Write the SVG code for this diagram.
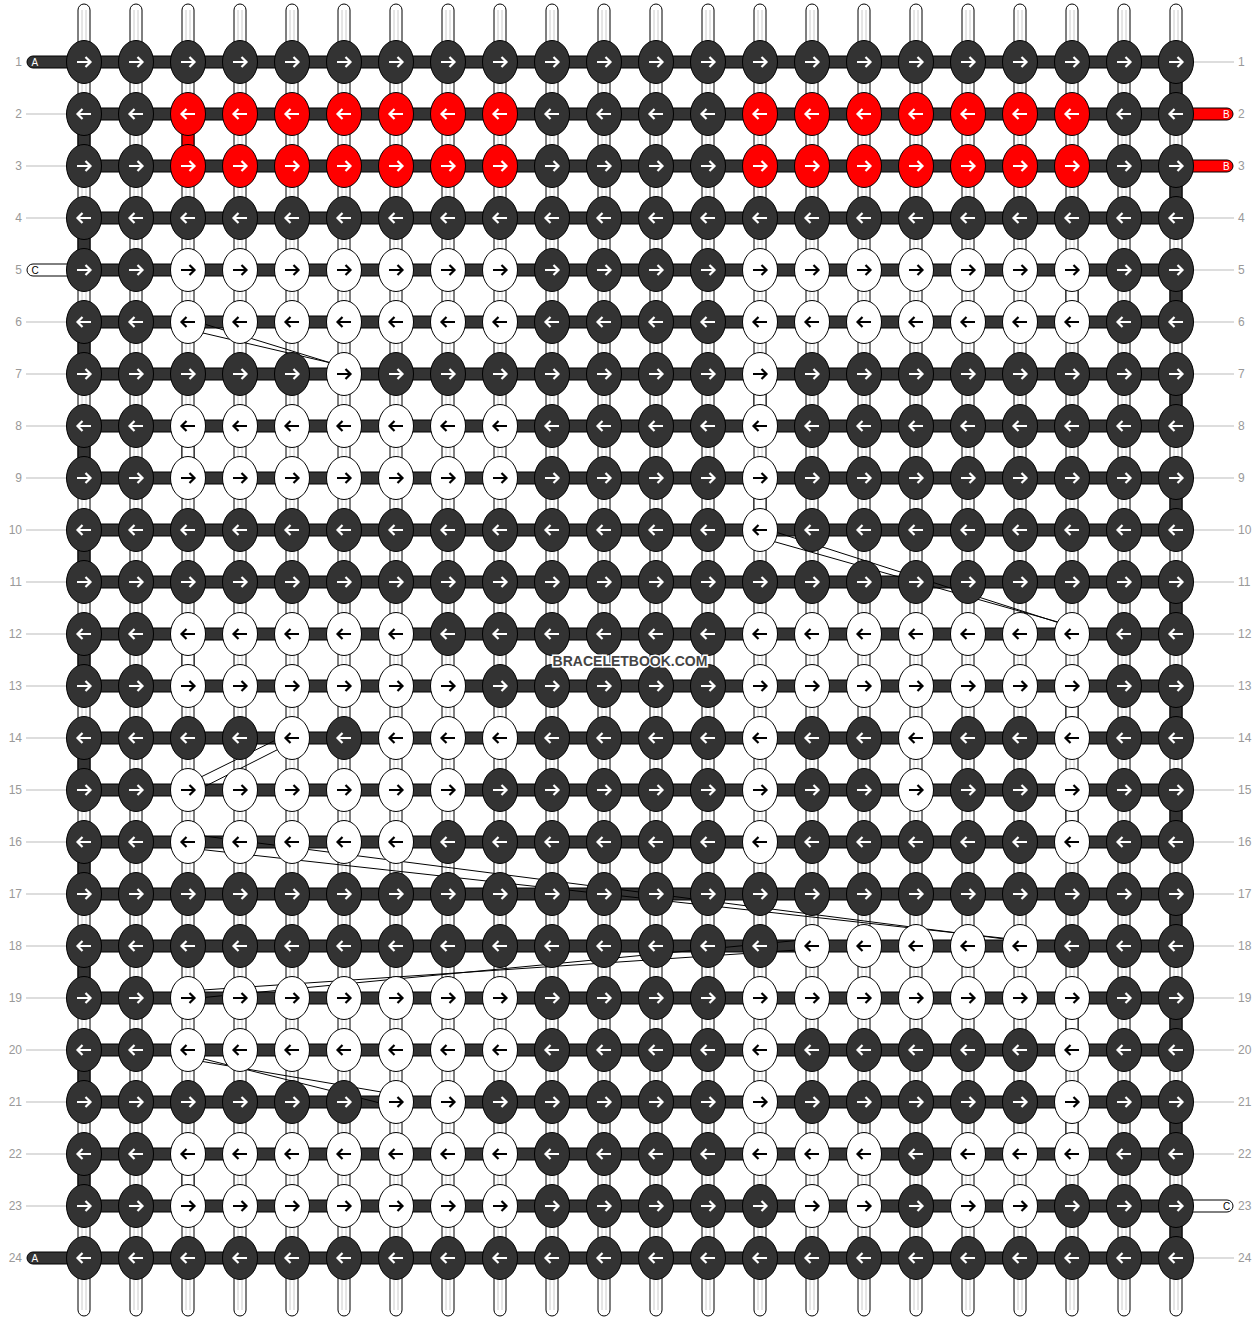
<svg xmlns="http://www.w3.org/2000/svg" xmlns:xlink="http://www.w3.org/1999/xlink" width="1260" height="1320" viewBox="0 0 1260 1320">
<style>
.kd{fill:#333;stroke:#000;stroke-width:1}
.kw{fill:#fff;stroke:#000;stroke-width:1}
.kr{fill:#f00;stroke:#000;stroke-width:1}
.aw{stroke:#fff}
.ab{stroke:#000}
.hb{fill:#333;stroke:#000;stroke-width:1}
.sd{fill:#333;stroke:#000;stroke-width:1}
.sr{fill:#f00;stroke:#000;stroke-width:1}
.sw{fill:#fff;stroke:#000;stroke-width:1}
.x{stroke:#000;stroke-width:1;fill:none}
.num{font-family:"Liberation Sans",Arial,sans-serif;font-size:12px;fill:#999}
.gl{stroke:#bbb;stroke-width:1}
.lab{font-family:"Liberation Sans",Arial,sans-serif;font-size:10px}
.wm{font-family:"Liberation Sans",Arial,sans-serif;font-size:14px;font-weight:bold;fill:#444;stroke:#fff;stroke-width:3;paint-order:stroke;text-anchor:middle}
</style>
<defs>
<path id="aR" d="M-7,0H6M1.5,-5L6.5,0L1.5,5" fill="none" stroke-width="2.2" stroke-linejoin="miter"/>
<path id="aL" d="M7,0H-6M-1.5,-5L-6.5,0L-1.5,5" fill="none" stroke-width="2.2" stroke-linejoin="miter"/>
<g id="dR"><ellipse rx="17.5" ry="21.5" class="kd"/><use href="#aR" class="aw"/></g>
<g id="dL"><ellipse rx="17.5" ry="21.5" class="kd"/><use href="#aL" class="aw"/></g>
<g id="wR"><ellipse rx="17.5" ry="21.5" class="kw"/><use href="#aR" class="ab"/></g>
<g id="wL"><ellipse rx="17.5" ry="21.5" class="kw"/><use href="#aL" class="ab"/></g>
<g id="rR"><ellipse rx="17.5" ry="21.5" class="kr"/><use href="#aR" class="aw"/></g>
<g id="rL"><ellipse rx="17.5" ry="21.5" class="kr"/><use href="#aL" class="aw"/></g>
<g id="pin"><rect x="-6" y="4" width="12" height="1312" rx="6" fill="#fff" stroke="#000"/><path d="M-2,10V1310M2,10V1310" stroke="#ccc"/></g>
</defs>
<rect width="1260" height="1320" fill="#fff"/>

<g id="labels">
<g class="gl">
<line x1="26" y1="114" x2="67" y2="114"/><line x1="26" y1="166" x2="67" y2="166"/><line x1="26" y1="218" x2="67" y2="218"/>
<line x1="26" y1="322" x2="67" y2="322"/><line x1="26" y1="374" x2="67" y2="374"/><line x1="26" y1="426" x2="67" y2="426"/><line x1="26" y1="478" x2="67" y2="478"/><line x1="26" y1="530" x2="67" y2="530"/><line x1="26" y1="582" x2="67" y2="582"/><line x1="26" y1="634" x2="67" y2="634"/><line x1="26" y1="686" x2="67" y2="686"/><line x1="26" y1="738" x2="67" y2="738"/><line x1="26" y1="790" x2="67" y2="790"/><line x1="26" y1="842" x2="67" y2="842"/><line x1="26" y1="894" x2="67" y2="894"/><line x1="26" y1="946" x2="67" y2="946"/><line x1="26" y1="998" x2="67" y2="998"/><line x1="26" y1="1050" x2="67" y2="1050"/><line x1="26" y1="1102" x2="67" y2="1102"/><line x1="26" y1="1154" x2="67" y2="1154"/><line x1="26" y1="1206" x2="67" y2="1206"/>
<line x1="1193" y1="62" x2="1234" y2="62"/><line x1="1193" y1="218" x2="1234" y2="218"/><line x1="1193" y1="270" x2="1234" y2="270"/><line x1="1193" y1="322" x2="1234" y2="322"/><line x1="1193" y1="374" x2="1234" y2="374"/><line x1="1193" y1="426" x2="1234" y2="426"/><line x1="1193" y1="478" x2="1234" y2="478"/><line x1="1193" y1="530" x2="1234" y2="530"/><line x1="1193" y1="582" x2="1234" y2="582"/><line x1="1193" y1="634" x2="1234" y2="634"/><line x1="1193" y1="686" x2="1234" y2="686"/><line x1="1193" y1="738" x2="1234" y2="738"/><line x1="1193" y1="790" x2="1234" y2="790"/><line x1="1193" y1="842" x2="1234" y2="842"/><line x1="1193" y1="894" x2="1234" y2="894"/><line x1="1193" y1="946" x2="1234" y2="946"/><line x1="1193" y1="998" x2="1234" y2="998"/><line x1="1193" y1="1050" x2="1234" y2="1050"/><line x1="1193" y1="1102" x2="1234" y2="1102"/><line x1="1193" y1="1154" x2="1234" y2="1154"/><line x1="1193" y1="1258" x2="1234" y2="1258"/>
</g>
<g class="num" text-anchor="end">
<text x="22" y="66">1</text><text x="22" y="118">2</text><text x="22" y="170">3</text><text x="22" y="222">4</text><text x="22" y="274">5</text><text x="22" y="326">6</text><text x="22" y="378">7</text><text x="22" y="430">8</text><text x="22" y="482">9</text><text x="22" y="534">10</text><text x="22" y="586">11</text><text x="22" y="638">12</text><text x="22" y="690">13</text><text x="22" y="742">14</text><text x="22" y="794">15</text><text x="22" y="846">16</text><text x="22" y="898">17</text><text x="22" y="950">18</text><text x="22" y="1002">19</text><text x="22" y="1054">20</text><text x="22" y="1106">21</text><text x="22" y="1158">22</text><text x="22" y="1210">23</text><text x="22" y="1262">24</text>
</g>
<g class="num">
<text x="1238" y="66">1</text><text x="1238" y="118">2</text><text x="1238" y="170">3</text><text x="1238" y="222">4</text><text x="1238" y="274">5</text><text x="1238" y="326">6</text><text x="1238" y="378">7</text><text x="1238" y="430">8</text><text x="1238" y="482">9</text><text x="1238" y="534">10</text><text x="1238" y="586">11</text><text x="1238" y="638">12</text><text x="1238" y="690">13</text><text x="1238" y="742">14</text><text x="1238" y="794">15</text><text x="1238" y="846">16</text><text x="1238" y="898">17</text><text x="1238" y="950">18</text><text x="1238" y="1002">19</text><text x="1238" y="1054">20</text><text x="1238" y="1106">21</text><text x="1238" y="1158">22</text><text x="1238" y="1210">23</text><text x="1238" y="1262">24</text>
</g>
</g>

<g id="connectors">
<g id="strands">
<use href="#pin" x="84"/><use href="#pin" x="136"/><use href="#pin" x="188"/><use href="#pin" x="240"/><use href="#pin" x="292"/><use href="#pin" x="344"/><use href="#pin" x="396"/><use href="#pin" x="448"/><use href="#pin" x="500"/><use href="#pin" x="552"/><use href="#pin" x="604"/><use href="#pin" x="656"/><use href="#pin" x="708"/><use href="#pin" x="760"/><use href="#pin" x="812"/><use href="#pin" x="864"/><use href="#pin" x="916"/><use href="#pin" x="968"/><use href="#pin" x="1020"/><use href="#pin" x="1072"/><use href="#pin" x="1124"/><use href="#pin" x="1176"/>
</g>
<g id="turns">
<rect class="sd" x="78" y="114" width="12" height="52"/><rect class="sd" x="78" y="218" width="12" height="52"/><rect class="sd" x="78" y="322" width="12" height="52"/><rect class="sd" x="78" y="426" width="12" height="52"/><rect class="sd" x="78" y="530" width="12" height="52"/><rect class="sd" x="78" y="634" width="12" height="52"/><rect class="sd" x="78" y="738" width="12" height="52"/><rect class="sd" x="78" y="842" width="12" height="52"/><rect class="sd" x="78" y="946" width="12" height="52"/><rect class="sd" x="78" y="1050" width="12" height="52"/><rect class="sd" x="78" y="1154" width="12" height="52"/>
<rect class="sd" x="1170" y="62" width="12" height="52"/><rect class="sd" x="1170" y="166" width="12" height="52"/><rect class="sd" x="1170" y="270" width="12" height="52"/><rect class="sd" x="1170" y="374" width="12" height="52"/><rect class="sd" x="1170" y="478" width="12" height="52"/><rect class="sd" x="1170" y="582" width="12" height="52"/><rect class="sd" x="1170" y="686" width="12" height="52"/><rect class="sd" x="1170" y="790" width="12" height="52"/><rect class="sd" x="1170" y="894" width="12" height="52"/><rect class="sd" x="1170" y="998" width="12" height="52"/><rect class="sd" x="1170" y="1102" width="12" height="52"/><rect class="sd" x="1170" y="1206" width="12" height="52"/>
<rect class="sr" x="182" y="114" width="12" height="52"/>
<rect class="sw" x="1066" y="270" width="12" height="52"/><rect class="sw" x="754" y="374" width="12" height="52"/><rect class="sw" x="182" y="426" width="12" height="52"/><rect class="sw" x="754" y="478" width="12" height="52"/><rect class="sw" x="182" y="634" width="12" height="52"/><rect class="sw" x="1066" y="686" width="12" height="52"/><rect class="sw" x="1066" y="790" width="12" height="52"/><rect class="sw" x="1066" y="998" width="12" height="52"/><rect class="sw" x="1066" y="1102" width="12" height="52"/><rect class="sw" x="182" y="1154" width="12" height="52"/>
</g>
<g id="rowbars">
<rect class="hb" x="84" y="56" width="1092" height="12"/><rect class="hb" x="84" y="108" width="1092" height="12"/><rect class="hb" x="84" y="160" width="1092" height="12"/><rect class="hb" x="84" y="212" width="1092" height="12"/><rect class="hb" x="84" y="264" width="1092" height="12"/><rect class="hb" x="84" y="316" width="1092" height="12"/><rect class="hb" x="84" y="368" width="1092" height="12"/><rect class="hb" x="84" y="420" width="1092" height="12"/><rect class="hb" x="84" y="472" width="1092" height="12"/><rect class="hb" x="84" y="524" width="1092" height="12"/><rect class="hb" x="84" y="576" width="1092" height="12"/><rect class="hb" x="84" y="628" width="1092" height="12"/><rect class="hb" x="84" y="680" width="1092" height="12"/><rect class="hb" x="84" y="732" width="1092" height="12"/><rect class="hb" x="84" y="784" width="1092" height="12"/><rect class="hb" x="84" y="836" width="1092" height="12"/><rect class="hb" x="84" y="888" width="1092" height="12"/><rect class="hb" x="84" y="940" width="1092" height="12"/><rect class="hb" x="84" y="992" width="1092" height="12"/><rect class="hb" x="84" y="1044" width="1092" height="12"/><rect class="hb" x="84" y="1096" width="1092" height="12"/><rect class="hb" x="84" y="1148" width="1092" height="12"/><rect class="hb" x="84" y="1200" width="1092" height="12"/><rect class="hb" x="84" y="1252" width="1092" height="12"/>
</g>
<g id="threads">
<rect x="27" y="56" width="60" height="12" rx="6" fill="#333" stroke="#000"/>
<rect x="27" y="1252" width="60" height="12" rx="6" fill="#333" stroke="#000"/>
<rect x="27" y="264" width="60" height="12" rx="6" fill="#fff" stroke="#000"/>
<rect x="1173" y="108" width="60" height="12" rx="6" fill="#f00" stroke="#000"/>
<rect x="1173" y="160" width="60" height="12" rx="6" fill="#f00" stroke="#000"/>
<rect x="1173" y="1200" width="60" height="12" rx="6" fill="#fff" stroke="#000"/>
</g>
<g id="jumps" class="x">
<line x1="188" y1="329.5" x2="344" y2="366"/><line x1="188" y1="319" x2="344" y2="367"/>
<line x1="760" y1="537.6" x2="1072" y2="626"/><line x1="760" y1="527" x2="1072" y2="627"/>
<line x1="292" y1="732" x2="188" y2="783.4"/><line x1="292" y1="742.3" x2="188" y2="795"/>
<line x1="188" y1="848" x2="1020" y2="940"/><line x1="188" y1="834" x2="1020" y2="941"/>
<line x1="188" y1="991" x2="812" y2="949"/><line x1="188" y1="999" x2="812" y2="939"/>
<line x1="188" y1="1055" x2="396" y2="1107"/><line x1="188" y1="1059" x2="396" y2="1094.5"/>
</g>
</g>

<g id="knots">
<g id="row1" transform="translate(0,62)">
<g id="n1-1"><use href="#dR" x="84"/></g><g id="n1-2"><use href="#dR" x="136"/></g><g id="n1-3"><use href="#dR" x="188"/></g><g id="n1-4"><use href="#dR" x="240"/></g><g id="n1-5"><use href="#dR" x="292"/></g><g id="n1-6"><use href="#dR" x="344"/></g><g id="n1-7"><use href="#dR" x="396"/></g><g id="n1-8"><use href="#dR" x="448"/></g><g id="n1-9"><use href="#dR" x="500"/></g><g id="n1-10"><use href="#dR" x="552"/></g><g id="n1-11"><use href="#dR" x="604"/></g><g id="n1-12"><use href="#dR" x="656"/></g><g id="n1-13"><use href="#dR" x="708"/></g><g id="n1-14"><use href="#dR" x="760"/></g><g id="n1-15"><use href="#dR" x="812"/></g><g id="n1-16"><use href="#dR" x="864"/></g><g id="n1-17"><use href="#dR" x="916"/></g><g id="n1-18"><use href="#dR" x="968"/></g><g id="n1-19"><use href="#dR" x="1020"/></g><g id="n1-20"><use href="#dR" x="1072"/></g><g id="n1-21"><use href="#dR" x="1124"/></g><g id="n1-22"><use href="#dR" x="1176"/></g>
</g>
<g id="row2" transform="translate(0,114)">
<g id="n2-1"><use href="#dL" x="84"/></g><g id="n2-2"><use href="#dL" x="136"/></g><g id="n2-3"><use href="#rL" x="188"/></g><g id="n2-4"><use href="#rL" x="240"/></g><g id="n2-5"><use href="#rL" x="292"/></g><g id="n2-6"><use href="#rL" x="344"/></g><g id="n2-7"><use href="#rL" x="396"/></g><g id="n2-8"><use href="#rL" x="448"/></g><g id="n2-9"><use href="#rL" x="500"/></g><g id="n2-10"><use href="#dL" x="552"/></g><g id="n2-11"><use href="#dL" x="604"/></g><g id="n2-12"><use href="#dL" x="656"/></g><g id="n2-13"><use href="#dL" x="708"/></g><g id="n2-14"><use href="#rL" x="760"/></g><g id="n2-15"><use href="#rL" x="812"/></g><g id="n2-16"><use href="#rL" x="864"/></g><g id="n2-17"><use href="#rL" x="916"/></g><g id="n2-18"><use href="#rL" x="968"/></g><g id="n2-19"><use href="#rL" x="1020"/></g><g id="n2-20"><use href="#rL" x="1072"/></g><g id="n2-21"><use href="#dL" x="1124"/></g><g id="n2-22"><use href="#dL" x="1176"/></g>
</g>
<g id="row3" transform="translate(0,166)">
<g id="n3-1"><use href="#dR" x="84"/></g><g id="n3-2"><use href="#dR" x="136"/></g><g id="n3-3"><use href="#rR" x="188"/></g><g id="n3-4"><use href="#rR" x="240"/></g><g id="n3-5"><use href="#rR" x="292"/></g><g id="n3-6"><use href="#rR" x="344"/></g><g id="n3-7"><use href="#rR" x="396"/></g><g id="n3-8"><use href="#rR" x="448"/></g><g id="n3-9"><use href="#rR" x="500"/></g><g id="n3-10"><use href="#dR" x="552"/></g><g id="n3-11"><use href="#dR" x="604"/></g><g id="n3-12"><use href="#dR" x="656"/></g><g id="n3-13"><use href="#dR" x="708"/></g><g id="n3-14"><use href="#rR" x="760"/></g><g id="n3-15"><use href="#rR" x="812"/></g><g id="n3-16"><use href="#rR" x="864"/></g><g id="n3-17"><use href="#rR" x="916"/></g><g id="n3-18"><use href="#rR" x="968"/></g><g id="n3-19"><use href="#rR" x="1020"/></g><g id="n3-20"><use href="#rR" x="1072"/></g><g id="n3-21"><use href="#dR" x="1124"/></g><g id="n3-22"><use href="#dR" x="1176"/></g>
</g>
<g id="row4" transform="translate(0,218)">
<g id="n4-1"><use href="#dL" x="84"/></g><g id="n4-2"><use href="#dL" x="136"/></g><g id="n4-3"><use href="#dL" x="188"/></g><g id="n4-4"><use href="#dL" x="240"/></g><g id="n4-5"><use href="#dL" x="292"/></g><g id="n4-6"><use href="#dL" x="344"/></g><g id="n4-7"><use href="#dL" x="396"/></g><g id="n4-8"><use href="#dL" x="448"/></g><g id="n4-9"><use href="#dL" x="500"/></g><g id="n4-10"><use href="#dL" x="552"/></g><g id="n4-11"><use href="#dL" x="604"/></g><g id="n4-12"><use href="#dL" x="656"/></g><g id="n4-13"><use href="#dL" x="708"/></g><g id="n4-14"><use href="#dL" x="760"/></g><g id="n4-15"><use href="#dL" x="812"/></g><g id="n4-16"><use href="#dL" x="864"/></g><g id="n4-17"><use href="#dL" x="916"/></g><g id="n4-18"><use href="#dL" x="968"/></g><g id="n4-19"><use href="#dL" x="1020"/></g><g id="n4-20"><use href="#dL" x="1072"/></g><g id="n4-21"><use href="#dL" x="1124"/></g><g id="n4-22"><use href="#dL" x="1176"/></g>
</g>
<g id="row5" transform="translate(0,270)">
<g id="n5-1"><use href="#dR" x="84"/></g><g id="n5-2"><use href="#dR" x="136"/></g><g id="n5-3"><use href="#wR" x="188"/></g><g id="n5-4"><use href="#wR" x="240"/></g><g id="n5-5"><use href="#wR" x="292"/></g><g id="n5-6"><use href="#wR" x="344"/></g><g id="n5-7"><use href="#wR" x="396"/></g><g id="n5-8"><use href="#wR" x="448"/></g><g id="n5-9"><use href="#wR" x="500"/></g><g id="n5-10"><use href="#dR" x="552"/></g><g id="n5-11"><use href="#dR" x="604"/></g><g id="n5-12"><use href="#dR" x="656"/></g><g id="n5-13"><use href="#dR" x="708"/></g><g id="n5-14"><use href="#wR" x="760"/></g><g id="n5-15"><use href="#wR" x="812"/></g><g id="n5-16"><use href="#wR" x="864"/></g><g id="n5-17"><use href="#wR" x="916"/></g><g id="n5-18"><use href="#wR" x="968"/></g><g id="n5-19"><use href="#wR" x="1020"/></g><g id="n5-20"><use href="#wR" x="1072"/></g><g id="n5-21"><use href="#dR" x="1124"/></g><g id="n5-22"><use href="#dR" x="1176"/></g>
</g>
<g id="row6" transform="translate(0,322)">
<g id="n6-1"><use href="#dL" x="84"/></g><g id="n6-2"><use href="#dL" x="136"/></g><g id="n6-3"><use href="#wL" x="188"/></g><g id="n6-4"><use href="#wL" x="240"/></g><g id="n6-5"><use href="#wL" x="292"/></g><g id="n6-6"><use href="#wL" x="344"/></g><g id="n6-7"><use href="#wL" x="396"/></g><g id="n6-8"><use href="#wL" x="448"/></g><g id="n6-9"><use href="#wL" x="500"/></g><g id="n6-10"><use href="#dL" x="552"/></g><g id="n6-11"><use href="#dL" x="604"/></g><g id="n6-12"><use href="#dL" x="656"/></g><g id="n6-13"><use href="#dL" x="708"/></g><g id="n6-14"><use href="#wL" x="760"/></g><g id="n6-15"><use href="#wL" x="812"/></g><g id="n6-16"><use href="#wL" x="864"/></g><g id="n6-17"><use href="#wL" x="916"/></g><g id="n6-18"><use href="#wL" x="968"/></g><g id="n6-19"><use href="#wL" x="1020"/></g><g id="n6-20"><use href="#wL" x="1072"/></g><g id="n6-21"><use href="#dL" x="1124"/></g><g id="n6-22"><use href="#dL" x="1176"/></g>
</g>
<g id="row7" transform="translate(0,374)">
<g id="n7-1"><use href="#dR" x="84"/></g><g id="n7-2"><use href="#dR" x="136"/></g><g id="n7-3"><use href="#dR" x="188"/></g><g id="n7-4"><use href="#dR" x="240"/></g><g id="n7-5"><use href="#dR" x="292"/></g><g id="n7-6"><use href="#wR" x="344"/></g><g id="n7-7"><use href="#dR" x="396"/></g><g id="n7-8"><use href="#dR" x="448"/></g><g id="n7-9"><use href="#dR" x="500"/></g><g id="n7-10"><use href="#dR" x="552"/></g><g id="n7-11"><use href="#dR" x="604"/></g><g id="n7-12"><use href="#dR" x="656"/></g><g id="n7-13"><use href="#dR" x="708"/></g><g id="n7-14"><use href="#wR" x="760"/></g><g id="n7-15"><use href="#dR" x="812"/></g><g id="n7-16"><use href="#dR" x="864"/></g><g id="n7-17"><use href="#dR" x="916"/></g><g id="n7-18"><use href="#dR" x="968"/></g><g id="n7-19"><use href="#dR" x="1020"/></g><g id="n7-20"><use href="#dR" x="1072"/></g><g id="n7-21"><use href="#dR" x="1124"/></g><g id="n7-22"><use href="#dR" x="1176"/></g>
</g>
<g id="row8" transform="translate(0,426)">
<g id="n8-1"><use href="#dL" x="84"/></g><g id="n8-2"><use href="#dL" x="136"/></g><g id="n8-3"><use href="#wL" x="188"/></g><g id="n8-4"><use href="#wL" x="240"/></g><g id="n8-5"><use href="#wL" x="292"/></g><g id="n8-6"><use href="#wL" x="344"/></g><g id="n8-7"><use href="#wL" x="396"/></g><g id="n8-8"><use href="#wL" x="448"/></g><g id="n8-9"><use href="#wL" x="500"/></g><g id="n8-10"><use href="#dL" x="552"/></g><g id="n8-11"><use href="#dL" x="604"/></g><g id="n8-12"><use href="#dL" x="656"/></g><g id="n8-13"><use href="#dL" x="708"/></g><g id="n8-14"><use href="#wL" x="760"/></g><g id="n8-15"><use href="#dL" x="812"/></g><g id="n8-16"><use href="#dL" x="864"/></g><g id="n8-17"><use href="#dL" x="916"/></g><g id="n8-18"><use href="#dL" x="968"/></g><g id="n8-19"><use href="#dL" x="1020"/></g><g id="n8-20"><use href="#dL" x="1072"/></g><g id="n8-21"><use href="#dL" x="1124"/></g><g id="n8-22"><use href="#dL" x="1176"/></g>
</g>
<g id="row9" transform="translate(0,478)">
<g id="n9-1"><use href="#dR" x="84"/></g><g id="n9-2"><use href="#dR" x="136"/></g><g id="n9-3"><use href="#wR" x="188"/></g><g id="n9-4"><use href="#wR" x="240"/></g><g id="n9-5"><use href="#wR" x="292"/></g><g id="n9-6"><use href="#wR" x="344"/></g><g id="n9-7"><use href="#wR" x="396"/></g><g id="n9-8"><use href="#wR" x="448"/></g><g id="n9-9"><use href="#wR" x="500"/></g><g id="n9-10"><use href="#dR" x="552"/></g><g id="n9-11"><use href="#dR" x="604"/></g><g id="n9-12"><use href="#dR" x="656"/></g><g id="n9-13"><use href="#dR" x="708"/></g><g id="n9-14"><use href="#wR" x="760"/></g><g id="n9-15"><use href="#dR" x="812"/></g><g id="n9-16"><use href="#dR" x="864"/></g><g id="n9-17"><use href="#dR" x="916"/></g><g id="n9-18"><use href="#dR" x="968"/></g><g id="n9-19"><use href="#dR" x="1020"/></g><g id="n9-20"><use href="#dR" x="1072"/></g><g id="n9-21"><use href="#dR" x="1124"/></g><g id="n9-22"><use href="#dR" x="1176"/></g>
</g>
<g id="row10" transform="translate(0,530)">
<g id="n10-1"><use href="#dL" x="84"/></g><g id="n10-2"><use href="#dL" x="136"/></g><g id="n10-3"><use href="#dL" x="188"/></g><g id="n10-4"><use href="#dL" x="240"/></g><g id="n10-5"><use href="#dL" x="292"/></g><g id="n10-6"><use href="#dL" x="344"/></g><g id="n10-7"><use href="#dL" x="396"/></g><g id="n10-8"><use href="#dL" x="448"/></g><g id="n10-9"><use href="#dL" x="500"/></g><g id="n10-10"><use href="#dL" x="552"/></g><g id="n10-11"><use href="#dL" x="604"/></g><g id="n10-12"><use href="#dL" x="656"/></g><g id="n10-13"><use href="#dL" x="708"/></g><g id="n10-14"><use href="#wL" x="760"/></g><g id="n10-15"><use href="#dL" x="812"/></g><g id="n10-16"><use href="#dL" x="864"/></g><g id="n10-17"><use href="#dL" x="916"/></g><g id="n10-18"><use href="#dL" x="968"/></g><g id="n10-19"><use href="#dL" x="1020"/></g><g id="n10-20"><use href="#dL" x="1072"/></g><g id="n10-21"><use href="#dL" x="1124"/></g><g id="n10-22"><use href="#dL" x="1176"/></g>
</g>
<g id="row11" transform="translate(0,582)">
<g id="n11-1"><use href="#dR" x="84"/></g><g id="n11-2"><use href="#dR" x="136"/></g><g id="n11-3"><use href="#dR" x="188"/></g><g id="n11-4"><use href="#dR" x="240"/></g><g id="n11-5"><use href="#dR" x="292"/></g><g id="n11-6"><use href="#dR" x="344"/></g><g id="n11-7"><use href="#dR" x="396"/></g><g id="n11-8"><use href="#dR" x="448"/></g><g id="n11-9"><use href="#dR" x="500"/></g><g id="n11-10"><use href="#dR" x="552"/></g><g id="n11-11"><use href="#dR" x="604"/></g><g id="n11-12"><use href="#dR" x="656"/></g><g id="n11-13"><use href="#dR" x="708"/></g><g id="n11-14"><use href="#dR" x="760"/></g><g id="n11-15"><use href="#dR" x="812"/></g><g id="n11-16"><use href="#dR" x="864"/></g><g id="n11-17"><use href="#dR" x="916"/></g><g id="n11-18"><use href="#dR" x="968"/></g><g id="n11-19"><use href="#dR" x="1020"/></g><g id="n11-20"><use href="#dR" x="1072"/></g><g id="n11-21"><use href="#dR" x="1124"/></g><g id="n11-22"><use href="#dR" x="1176"/></g>
</g>
<g id="row12" transform="translate(0,634)">
<g id="n12-1"><use href="#dL" x="84"/></g><g id="n12-2"><use href="#dL" x="136"/></g><g id="n12-3"><use href="#wL" x="188"/></g><g id="n12-4"><use href="#wL" x="240"/></g><g id="n12-5"><use href="#wL" x="292"/></g><g id="n12-6"><use href="#wL" x="344"/></g><g id="n12-7"><use href="#wL" x="396"/></g><g id="n12-8"><use href="#dL" x="448"/></g><g id="n12-9"><use href="#dL" x="500"/></g><g id="n12-10"><use href="#dL" x="552"/></g><g id="n12-11"><use href="#dL" x="604"/></g><g id="n12-12"><use href="#dL" x="656"/></g><g id="n12-13"><use href="#dL" x="708"/></g><g id="n12-14"><use href="#wL" x="760"/></g><g id="n12-15"><use href="#wL" x="812"/></g><g id="n12-16"><use href="#wL" x="864"/></g><g id="n12-17"><use href="#wL" x="916"/></g><g id="n12-18"><use href="#wL" x="968"/></g><g id="n12-19"><use href="#wL" x="1020"/></g><g id="n12-20"><use href="#wL" x="1072"/></g><g id="n12-21"><use href="#dL" x="1124"/></g><g id="n12-22"><use href="#dL" x="1176"/></g>
</g>
<g id="row13" transform="translate(0,686)">
<g id="n13-1"><use href="#dR" x="84"/></g><g id="n13-2"><use href="#dR" x="136"/></g><g id="n13-3"><use href="#wR" x="188"/></g><g id="n13-4"><use href="#wR" x="240"/></g><g id="n13-5"><use href="#wR" x="292"/></g><g id="n13-6"><use href="#wR" x="344"/></g><g id="n13-7"><use href="#wR" x="396"/></g><g id="n13-8"><use href="#wR" x="448"/></g><g id="n13-9"><use href="#dR" x="500"/></g><g id="n13-10"><use href="#dR" x="552"/></g><g id="n13-11"><use href="#dR" x="604"/></g><g id="n13-12"><use href="#dR" x="656"/></g><g id="n13-13"><use href="#dR" x="708"/></g><g id="n13-14"><use href="#wR" x="760"/></g><g id="n13-15"><use href="#wR" x="812"/></g><g id="n13-16"><use href="#wR" x="864"/></g><g id="n13-17"><use href="#wR" x="916"/></g><g id="n13-18"><use href="#wR" x="968"/></g><g id="n13-19"><use href="#wR" x="1020"/></g><g id="n13-20"><use href="#wR" x="1072"/></g><g id="n13-21"><use href="#dR" x="1124"/></g><g id="n13-22"><use href="#dR" x="1176"/></g>
</g>
<g id="row14" transform="translate(0,738)">
<g id="n14-1"><use href="#dL" x="84"/></g><g id="n14-2"><use href="#dL" x="136"/></g><g id="n14-3"><use href="#dL" x="188"/></g><g id="n14-4"><use href="#dL" x="240"/></g><g id="n14-5"><use href="#wL" x="292"/></g><g id="n14-6"><use href="#dL" x="344"/></g><g id="n14-7"><use href="#wL" x="396"/></g><g id="n14-8"><use href="#wL" x="448"/></g><g id="n14-9"><use href="#wL" x="500"/></g><g id="n14-10"><use href="#dL" x="552"/></g><g id="n14-11"><use href="#dL" x="604"/></g><g id="n14-12"><use href="#dL" x="656"/></g><g id="n14-13"><use href="#dL" x="708"/></g><g id="n14-14"><use href="#wL" x="760"/></g><g id="n14-15"><use href="#dL" x="812"/></g><g id="n14-16"><use href="#dL" x="864"/></g><g id="n14-17"><use href="#wL" x="916"/></g><g id="n14-18"><use href="#dL" x="968"/></g><g id="n14-19"><use href="#dL" x="1020"/></g><g id="n14-20"><use href="#wL" x="1072"/></g><g id="n14-21"><use href="#dL" x="1124"/></g><g id="n14-22"><use href="#dL" x="1176"/></g>
</g>
<g id="row15" transform="translate(0,790)">
<g id="n15-1"><use href="#dR" x="84"/></g><g id="n15-2"><use href="#dR" x="136"/></g><g id="n15-3"><use href="#wR" x="188"/></g><g id="n15-4"><use href="#wR" x="240"/></g><g id="n15-5"><use href="#wR" x="292"/></g><g id="n15-6"><use href="#wR" x="344"/></g><g id="n15-7"><use href="#wR" x="396"/></g><g id="n15-8"><use href="#wR" x="448"/></g><g id="n15-9"><use href="#dR" x="500"/></g><g id="n15-10"><use href="#dR" x="552"/></g><g id="n15-11"><use href="#dR" x="604"/></g><g id="n15-12"><use href="#dR" x="656"/></g><g id="n15-13"><use href="#dR" x="708"/></g><g id="n15-14"><use href="#wR" x="760"/></g><g id="n15-15"><use href="#dR" x="812"/></g><g id="n15-16"><use href="#dR" x="864"/></g><g id="n15-17"><use href="#wR" x="916"/></g><g id="n15-18"><use href="#dR" x="968"/></g><g id="n15-19"><use href="#dR" x="1020"/></g><g id="n15-20"><use href="#wR" x="1072"/></g><g id="n15-21"><use href="#dR" x="1124"/></g><g id="n15-22"><use href="#dR" x="1176"/></g>
</g>
<g id="row16" transform="translate(0,842)">
<g id="n16-1"><use href="#dL" x="84"/></g><g id="n16-2"><use href="#dL" x="136"/></g><g id="n16-3"><use href="#wL" x="188"/></g><g id="n16-4"><use href="#wL" x="240"/></g><g id="n16-5"><use href="#wL" x="292"/></g><g id="n16-6"><use href="#wL" x="344"/></g><g id="n16-7"><use href="#wL" x="396"/></g><g id="n16-8"><use href="#dL" x="448"/></g><g id="n16-9"><use href="#dL" x="500"/></g><g id="n16-10"><use href="#dL" x="552"/></g><g id="n16-11"><use href="#dL" x="604"/></g><g id="n16-12"><use href="#dL" x="656"/></g><g id="n16-13"><use href="#dL" x="708"/></g><g id="n16-14"><use href="#wL" x="760"/></g><g id="n16-15"><use href="#dL" x="812"/></g><g id="n16-16"><use href="#dL" x="864"/></g><g id="n16-17"><use href="#dL" x="916"/></g><g id="n16-18"><use href="#dL" x="968"/></g><g id="n16-19"><use href="#dL" x="1020"/></g><g id="n16-20"><use href="#wL" x="1072"/></g><g id="n16-21"><use href="#dL" x="1124"/></g><g id="n16-22"><use href="#dL" x="1176"/></g>
</g>
<g id="row17" transform="translate(0,894)">
<g id="n17-1"><use href="#dR" x="84"/></g><g id="n17-2"><use href="#dR" x="136"/></g><g id="n17-3"><use href="#dR" x="188"/></g><g id="n17-4"><use href="#dR" x="240"/></g><g id="n17-5"><use href="#dR" x="292"/></g><g id="n17-6"><use href="#dR" x="344"/></g><g id="n17-7"><use href="#dR" x="396"/></g><g id="n17-8"><use href="#dR" x="448"/></g><g id="n17-9"><use href="#dR" x="500"/></g><g id="n17-10"><use href="#dR" x="552"/></g><g id="n17-11"><use href="#dR" x="604"/></g><g id="n17-12"><use href="#dR" x="656"/></g><g id="n17-13"><use href="#dR" x="708"/></g><g id="n17-14"><use href="#dR" x="760"/></g><g id="n17-15"><use href="#dR" x="812"/></g><g id="n17-16"><use href="#dR" x="864"/></g><g id="n17-17"><use href="#dR" x="916"/></g><g id="n17-18"><use href="#dR" x="968"/></g><g id="n17-19"><use href="#dR" x="1020"/></g><g id="n17-20"><use href="#dR" x="1072"/></g><g id="n17-21"><use href="#dR" x="1124"/></g><g id="n17-22"><use href="#dR" x="1176"/></g>
</g>
<g id="row18" transform="translate(0,946)">
<g id="n18-1"><use href="#dL" x="84"/></g><g id="n18-2"><use href="#dL" x="136"/></g><g id="n18-3"><use href="#dL" x="188"/></g><g id="n18-4"><use href="#dL" x="240"/></g><g id="n18-5"><use href="#dL" x="292"/></g><g id="n18-6"><use href="#dL" x="344"/></g><g id="n18-7"><use href="#dL" x="396"/></g><g id="n18-8"><use href="#dL" x="448"/></g><g id="n18-9"><use href="#dL" x="500"/></g><g id="n18-10"><use href="#dL" x="552"/></g><g id="n18-11"><use href="#dL" x="604"/></g><g id="n18-12"><use href="#dL" x="656"/></g><g id="n18-13"><use href="#dL" x="708"/></g><g id="n18-14"><use href="#dL" x="760"/></g><g id="n18-15"><use href="#wL" x="812"/></g><g id="n18-16"><use href="#wL" x="864"/></g><g id="n18-17"><use href="#wL" x="916"/></g><g id="n18-18"><use href="#wL" x="968"/></g><g id="n18-19"><use href="#wL" x="1020"/></g><g id="n18-20"><use href="#dL" x="1072"/></g><g id="n18-21"><use href="#dL" x="1124"/></g><g id="n18-22"><use href="#dL" x="1176"/></g>
</g>
<g id="row19" transform="translate(0,998)">
<g id="n19-1"><use href="#dR" x="84"/></g><g id="n19-2"><use href="#dR" x="136"/></g><g id="n19-3"><use href="#wR" x="188"/></g><g id="n19-4"><use href="#wR" x="240"/></g><g id="n19-5"><use href="#wR" x="292"/></g><g id="n19-6"><use href="#wR" x="344"/></g><g id="n19-7"><use href="#wR" x="396"/></g><g id="n19-8"><use href="#wR" x="448"/></g><g id="n19-9"><use href="#wR" x="500"/></g><g id="n19-10"><use href="#dR" x="552"/></g><g id="n19-11"><use href="#dR" x="604"/></g><g id="n19-12"><use href="#dR" x="656"/></g><g id="n19-13"><use href="#dR" x="708"/></g><g id="n19-14"><use href="#wR" x="760"/></g><g id="n19-15"><use href="#wR" x="812"/></g><g id="n19-16"><use href="#wR" x="864"/></g><g id="n19-17"><use href="#wR" x="916"/></g><g id="n19-18"><use href="#wR" x="968"/></g><g id="n19-19"><use href="#wR" x="1020"/></g><g id="n19-20"><use href="#wR" x="1072"/></g><g id="n19-21"><use href="#dR" x="1124"/></g><g id="n19-22"><use href="#dR" x="1176"/></g>
</g>
<g id="row20" transform="translate(0,1050)">
<g id="n20-1"><use href="#dL" x="84"/></g><g id="n20-2"><use href="#dL" x="136"/></g><g id="n20-3"><use href="#wL" x="188"/></g><g id="n20-4"><use href="#wL" x="240"/></g><g id="n20-5"><use href="#wL" x="292"/></g><g id="n20-6"><use href="#wL" x="344"/></g><g id="n20-7"><use href="#wL" x="396"/></g><g id="n20-8"><use href="#wL" x="448"/></g><g id="n20-9"><use href="#wL" x="500"/></g><g id="n20-10"><use href="#dL" x="552"/></g><g id="n20-11"><use href="#dL" x="604"/></g><g id="n20-12"><use href="#dL" x="656"/></g><g id="n20-13"><use href="#dL" x="708"/></g><g id="n20-14"><use href="#wL" x="760"/></g><g id="n20-15"><use href="#dL" x="812"/></g><g id="n20-16"><use href="#dL" x="864"/></g><g id="n20-17"><use href="#dL" x="916"/></g><g id="n20-18"><use href="#dL" x="968"/></g><g id="n20-19"><use href="#dL" x="1020"/></g><g id="n20-20"><use href="#wL" x="1072"/></g><g id="n20-21"><use href="#dL" x="1124"/></g><g id="n20-22"><use href="#dL" x="1176"/></g>
</g>
<g id="row21" transform="translate(0,1102)">
<g id="n21-1"><use href="#dR" x="84"/></g><g id="n21-2"><use href="#dR" x="136"/></g><g id="n21-3"><use href="#dR" x="188"/></g><g id="n21-4"><use href="#dR" x="240"/></g><g id="n21-5"><use href="#dR" x="292"/></g><g id="n21-6"><use href="#dR" x="344"/></g><g id="n21-7"><use href="#wR" x="396"/></g><g id="n21-8"><use href="#wR" x="448"/></g><g id="n21-9"><use href="#dR" x="500"/></g><g id="n21-10"><use href="#dR" x="552"/></g><g id="n21-11"><use href="#dR" x="604"/></g><g id="n21-12"><use href="#dR" x="656"/></g><g id="n21-13"><use href="#dR" x="708"/></g><g id="n21-14"><use href="#wR" x="760"/></g><g id="n21-15"><use href="#dR" x="812"/></g><g id="n21-16"><use href="#dR" x="864"/></g><g id="n21-17"><use href="#dR" x="916"/></g><g id="n21-18"><use href="#dR" x="968"/></g><g id="n21-19"><use href="#dR" x="1020"/></g><g id="n21-20"><use href="#wR" x="1072"/></g><g id="n21-21"><use href="#dR" x="1124"/></g><g id="n21-22"><use href="#dR" x="1176"/></g>
</g>
<g id="row22" transform="translate(0,1154)">
<g id="n22-1"><use href="#dL" x="84"/></g><g id="n22-2"><use href="#dL" x="136"/></g><g id="n22-3"><use href="#wL" x="188"/></g><g id="n22-4"><use href="#wL" x="240"/></g><g id="n22-5"><use href="#wL" x="292"/></g><g id="n22-6"><use href="#wL" x="344"/></g><g id="n22-7"><use href="#wL" x="396"/></g><g id="n22-8"><use href="#wL" x="448"/></g><g id="n22-9"><use href="#wL" x="500"/></g><g id="n22-10"><use href="#dL" x="552"/></g><g id="n22-11"><use href="#dL" x="604"/></g><g id="n22-12"><use href="#dL" x="656"/></g><g id="n22-13"><use href="#dL" x="708"/></g><g id="n22-14"><use href="#wL" x="760"/></g><g id="n22-15"><use href="#wL" x="812"/></g><g id="n22-16"><use href="#wL" x="864"/></g><g id="n22-17"><use href="#dL" x="916"/></g><g id="n22-18"><use href="#wL" x="968"/></g><g id="n22-19"><use href="#wL" x="1020"/></g><g id="n22-20"><use href="#wL" x="1072"/></g><g id="n22-21"><use href="#dL" x="1124"/></g><g id="n22-22"><use href="#dL" x="1176"/></g>
</g>
<g id="row23" transform="translate(0,1206)">
<g id="n23-1"><use href="#dR" x="84"/></g><g id="n23-2"><use href="#dR" x="136"/></g><g id="n23-3"><use href="#wR" x="188"/></g><g id="n23-4"><use href="#wR" x="240"/></g><g id="n23-5"><use href="#wR" x="292"/></g><g id="n23-6"><use href="#wR" x="344"/></g><g id="n23-7"><use href="#wR" x="396"/></g><g id="n23-8"><use href="#wR" x="448"/></g><g id="n23-9"><use href="#wR" x="500"/></g><g id="n23-10"><use href="#dR" x="552"/></g><g id="n23-11"><use href="#dR" x="604"/></g><g id="n23-12"><use href="#dR" x="656"/></g><g id="n23-13"><use href="#dR" x="708"/></g><g id="n23-14"><use href="#dR" x="760"/></g><g id="n23-15"><use href="#wR" x="812"/></g><g id="n23-16"><use href="#wR" x="864"/></g><g id="n23-17"><use href="#dR" x="916"/></g><g id="n23-18"><use href="#wR" x="968"/></g><g id="n23-19"><use href="#wR" x="1020"/></g><g id="n23-20"><use href="#dR" x="1072"/></g><g id="n23-21"><use href="#dR" x="1124"/></g><g id="n23-22"><use href="#dR" x="1176"/></g>
</g>
<g id="row24" transform="translate(0,1258)">
<g id="n24-1"><use href="#dL" x="84"/></g><g id="n24-2"><use href="#dL" x="136"/></g><g id="n24-3"><use href="#dL" x="188"/></g><g id="n24-4"><use href="#dL" x="240"/></g><g id="n24-5"><use href="#dL" x="292"/></g><g id="n24-6"><use href="#dL" x="344"/></g><g id="n24-7"><use href="#dL" x="396"/></g><g id="n24-8"><use href="#dL" x="448"/></g><g id="n24-9"><use href="#dL" x="500"/></g><g id="n24-10"><use href="#dL" x="552"/></g><g id="n24-11"><use href="#dL" x="604"/></g><g id="n24-12"><use href="#dL" x="656"/></g><g id="n24-13"><use href="#dL" x="708"/></g><g id="n24-14"><use href="#dL" x="760"/></g><g id="n24-15"><use href="#dL" x="812"/></g><g id="n24-16"><use href="#dL" x="864"/></g><g id="n24-17"><use href="#dL" x="916"/></g><g id="n24-18"><use href="#dL" x="968"/></g><g id="n24-19"><use href="#dL" x="1020"/></g><g id="n24-20"><use href="#dL" x="1072"/></g><g id="n24-21"><use href="#dL" x="1124"/></g><g id="n24-22"><use href="#dL" x="1176"/></g>
</g>
</g>

<g id="thread-labels" class="lab">
<text x="31.5" y="65.5" fill="#fff">A</text>
<text x="31.5" y="1261.5" fill="#fff">A</text>
<text x="31.5" y="273.5" fill="#000">C</text>
<text x="1223" y="117.5" fill="#fff">B</text>
<text x="1223" y="169.5" fill="#fff">B</text>
<text x="1223" y="1209.5" fill="#000">C</text>
</g>
<text class="wm" x="630" y="665.5">BRACELETBOOK.COM</text>
</svg>
